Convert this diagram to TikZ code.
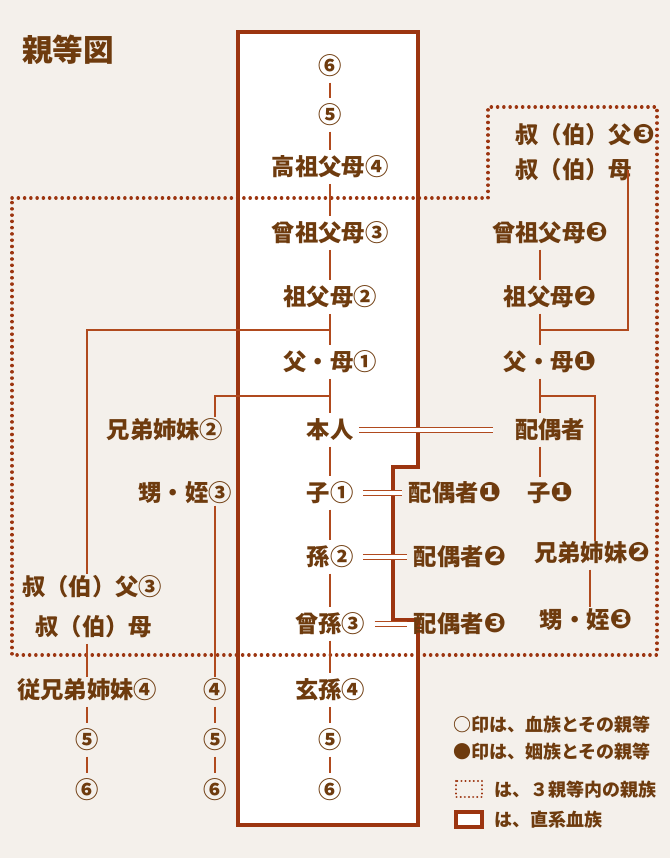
\documentclass[tikz,border=0pt]{standalone}
\usepackage{fontspec}
\setmainfont{Noto Sans CJK JP}
\newfontfamily\djvfont{DejaVu Sans}
\definecolor{bg}{HTML}{F4F0EB}
\definecolor{tx}{HTML}{6E3B0E}
\definecolor{ln}{HTML}{B04A1E}
\definecolor{bx}{HTML}{9C3510}
\newcommand{\bn}[1]{{\djvfont\fontsize{20}{20}\selectfont #1}}
\begin{document}
\begin{tikzpicture}[x=0.75pt,y=-0.75pt,
 t/.style={text=tx,font=\bfseries\fontsize{17.5}{19}\selectfont,inner sep=1pt},
 lg/.style={text=tx,font=\bfseries\fontsize{13.5}{15}\selectfont,anchor=west,inner sep=0pt},
 l/.style={draw=ln,line width=1.1pt},
 dl/.style={draw=ln,line width=0.9pt,double distance=2.4pt,draw=ln}]
\fill[bg] (0,0) rectangle (670,858);
\useasboundingbox (0,0) rectangle (670,858);
% box
\draw[bx,line width=2.4pt,fill=white] (238,32)--(418,32)--(418,467)--(393,467)--(393,620)--(418,620)--(418,825)--(238,825)--cycle;
% dotted region
\draw[bx,line width=2.6pt,dash pattern=on 0.1pt off 4.6pt,line cap=round] (12,198)--(488,198)--(488,107)--(657,107)--(657,655)--(12,655)--cycle;
\node[t,font=\bfseries\fontsize{23}{25}\selectfont] (title) at (68,50) {親等図};
% centre column
\node[t] (c6) at (330,66) {⑥};
\node[t] (c5) at (330,115) {⑤};
\node[t] (c4) at (330,167) {高祖父母④};
\node[t] (c3) at (330,233) {曾祖父母③};
\node[t] (c2) at (330,297) {祖父母②};
\node[t] (c1) at (330,362) {父・母①};
\node[t] (me) at (330,430) {本人};
\node[t] (k1) at (330,493) {子①};
\node[t] (k2) at (330,557) {孫②};
\node[t] (k3) at (330,624) {曾孫③};
\node[t] (k4) at (330,690) {玄孫④};
\node[t] (k5) at (330,740) {⑤};
\node[t] (k6) at (330,790) {⑥};
\foreach \a/\b in {c6/c5,c5/c4,c4/c3,c3/c2,c2/c1,c1/me,me/k1,k1/k2,k2/k3,k3/k4,k4/k5,k5/k6}
  \draw[l,shorten <=3pt,shorten >=3pt] (\a) -- (\b);
% left
\node[t] (u3) at (92,587) {叔（伯）父③};
\node[t,anchor=west] (u3m) at (34,627) {叔（伯）母};
\node[t] (co4) at (87,690) {従兄弟姉妹④};
\node[t] (co5) at (87,740) {⑤};
\node[t] (co6) at (87,790) {⑥};
\coordinate (j1) at (330,330);
\coordinate (j1l) at (87,330);
\draw[l] (j1) -- (j1l) -- (u3.north -| j1l);
\draw[l] (330,322)--(330,338);
\draw[l,shorten <=3pt] (u3m.south -| j1l) -- (co4);
\draw[l,shorten <=3pt,shorten >=3pt] (co4)--(co5);
\draw[l,shorten <=3pt,shorten >=3pt] (co5)--(co6);
\node[t] (s2) at (165,430) {兄弟姉妹②};
\node[t] (n3) at (185,493) {甥・姪③};
\node[t] (n4) at (215,690) {④};
\node[t] (n5) at (215,740) {⑤};
\node[t] (n6) at (215,790) {⑥};
\coordinate (j2) at (330,396);
\coordinate (j2l) at (215,396);
\draw[l] (j2) -- (j2l) -- (s2.north -| j2l);
\draw[l] (330,388)--(330,404);
\draw[l] (n3.south -| n4) -- (n4);
\draw[l,shorten <=3pt,shorten >=3pt] (n4)--(n5);
\draw[l,shorten <=3pt,shorten >=3pt] (n5)--(n6);
% right
\node[t,anchor=west] (ru) at (514,135) {叔（伯）父\bn{❸}};
\node[t,anchor=west] (rm) at (514,170) {叔（伯）母};
\node[t] (r3) at (550,233) {曾祖父母\bn{❸}};
\node[t] (r2) at (550,297) {祖父母\bn{❷}};
\node[t] (r1) at (550,362) {父・母\bn{❶}};
\node[t] (sp) at (550,430) {配偶者};
\node[t] (rk) at (550,493) {子\bn{❶}};
\node[t] (rs) at (592,553) {兄弟姉妹\bn{❷}};
\node[t] (rn) at (586,620) {甥・姪\bn{❸}};
\coordinate (rx) at (540,0);
\draw[l,shorten <=3pt,shorten >=3pt] (r3.south -| rx) -- (r2.north -| rx);
\draw[l,shorten <=3pt,shorten >=3pt] (r2.south -| rx) -- (r1.north -| rx);
\draw[l,shorten <=3pt,shorten >=3pt] (r1.south -| rx) -- (sp.north -| rx);
\draw[l,shorten <=3pt,shorten >=3pt] (sp.south -| rx) -- (rk.north -| rx);
\coordinate (j3) at (540,330);
\draw[l] (628,170) -- (628,330) -- (j3);
\draw[l] (540,322)--(540,338);
\coordinate (j4) at (540,396);
\draw[l] (j4) -- (595,396) -- (595,541);
\draw[l] (540,388)--(540,404);
\draw[l,shorten <=3pt] (rs.south -| 590,0) -- (rn.north -| 590,0);
% marriages
\draw[dl] (me.east) ++(3pt,0) -- (493,430);
\node[t] (sp1) at (455,493) {配偶者\bn{❶}};
\node[t] (sp2) at (460,557) {配偶者\bn{❷}};
\node[t] (sp3) at (460,624) {配偶者\bn{❸}};
\draw[dl,shorten <=6pt,shorten >=4pt] (k1.east) -- (sp1.west);
\draw[dl,shorten <=6pt,shorten >=4pt] (k2.east) -- (sp2.west);
\draw[dl,shorten <=6pt,shorten >=4pt] (k3.east) -- (sp3.west);
% legend
\node[lg] (lg1) at (453,725) {○印は、血族とその親等};
\node[lg] (lg2) at (453,752) {●印は、姻族とその親等};
\draw[bx,line width=1.6pt,dash pattern=on 0.1pt off 3pt,line cap=round] (456,781) rectangle (482,797);
\node[lg] (lg3) at (494,790) {は、３親等内の親族};
\draw[bx,line width=2.6pt,fill=white] (456,812) rectangle (482,827);
\node[lg] (lg4) at (494,820) {は、直系血族};
\end{tikzpicture}
\end{document}
